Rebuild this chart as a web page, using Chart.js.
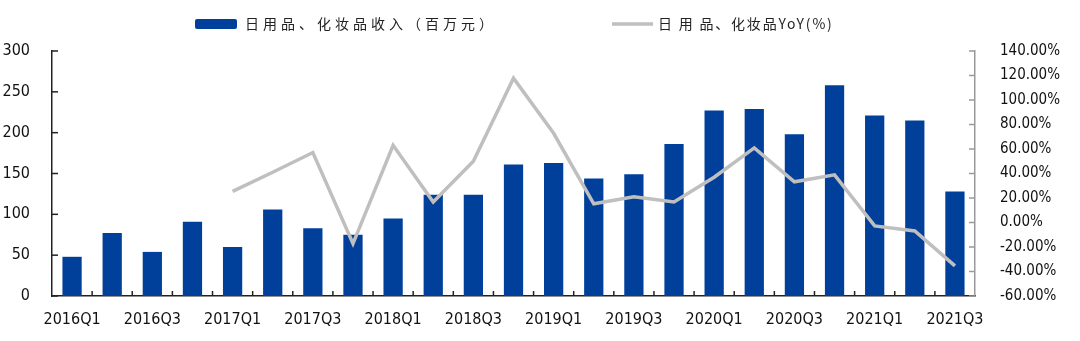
<!DOCTYPE html>
<html lang="zh">
<head>
    <meta charset="UTF-8">
    <title>日用品、化妆品收入</title>
    <script src="https://cdn.jsdelivr.net/npm/chart.js"></script>
    <style>
        body { margin: 0; background: #fff; }
        #wrap { width: 1080px; height: 341px; position: relative; }
    </style>
</head>
<body>
<div id="wrap"><canvas id="chart"></canvas></div>
<script>
    // data
    const quarters = ['2016Q1', '2016Q2', '2016Q3', '2016Q4', '2017Q1', '2017Q2', '2017Q3', '2017Q4',
                      '2018Q1', '2018Q2', '2018Q3', '2018Q4', '2019Q1', '2019Q2', '2019Q3', '2019Q4',
                      '2020Q1', '2020Q2', '2020Q3', '2020Q4', '2021Q1', '2021Q2', '2021Q3'];
    const revenue = [48, 77, 54, 91, 60, 106, 83, 75, 95, 124, 124, 161, 163, 144, 149, 186,
                     227, 229, 198, 258, 221, 215, 128];
    const yoy = [null, null, null, null, 25.4, 41, 57.1, -17.2, 63, 16.7, 50, 117.8, 72.8, 15.3, 21, 16.7,
                 37, 60.9, 33.2, 38.9, -2.8, -6.9, -35.4];
    const revenueLabel = '日用品、化妆品收入（百万元）';
    const yoyLabel = '日 用 品、化妆品YoY(%)';

    const blue = '#00409A';
    const grey = '#BFBFBF';
    const tickFont = { family: '"DejaVu Sans Condensed", "DejaVu Sans", sans-serif', size: 16 };

    // legend + inward tick marks
    const extras = {
        id: 'extras',
        afterDraw(chart) {
            const ctx = chart.ctx;
            const area = chart.chartArea;
            const x = chart.scales.x, y = chart.scales.y, y1 = chart.scales.y1;
            ctx.save();
            ctx.lineWidth = 1.5;
            ctx.strokeStyle = '#222';
            y.ticks.forEach(t => {
                const py = y.getPixelForValue(t.value);
                ctx.beginPath(); ctx.moveTo(area.left, py); ctx.lineTo(area.left + 6, py); ctx.stroke();
            });
            const step = (x.getPixelForValue(1) - x.getPixelForValue(0));
            for (let i = 1; i < quarters.length; i++) {
                const px = x.getPixelForValue(i) - step / 2;
                ctx.beginPath(); ctx.moveTo(px, area.bottom); ctx.lineTo(px, area.bottom - 5); ctx.stroke();
            }
            ctx.strokeStyle = '#999';
            y1.ticks.forEach(t => {
                const py = y1.getPixelForValue(t.value);
                ctx.beginPath(); ctx.moveTo(area.right, py); ctx.lineTo(area.right - 6, py); ctx.stroke();
            });

            // legend
            ctx.font = '14px "Noto Sans CJK SC", sans-serif';
            ctx.textBaseline = 'middle';
            ctx.fillStyle = blue;
            ctx.beginPath();
            ctx.roundRect(195, 19, 42, 10, 2);
            ctx.fill();
            ctx.fillStyle = '#222';
            ctx.letterSpacing = '4px';
            ctx.fillText(revenueLabel, 245, 24);
            ctx.strokeStyle = grey;
            ctx.lineWidth = 3.5;
            ctx.beginPath(); ctx.moveTo(612, 24); ctx.lineTo(653, 24); ctx.stroke();
            ctx.letterSpacing = '1.8px';
            ctx.fillText(yoyLabel, 658, 24);
            ctx.restore();
        }
    };

    new Chart(document.getElementById('chart'), {
        data: {
            labels: quarters,
            datasets: [
                {
                    type: 'line',
                    label: yoyLabel,
                    data: yoy,
                    yAxisID: 'y1',
                    borderColor: grey,
                    borderWidth: 3.5,
                    pointRadius: 0,
                    tension: 0,
                    order: 0
                },
                {
                    type: 'bar',
                    label: revenueLabel,
                    data: revenue,
                    yAxisID: 'y',
                    backgroundColor: blue,
                    categoryPercentage: 1,
                    barPercentage: 0.48,
                    order: 1
                }
            ]
        },
        options: {
            responsive: true,
            maintainAspectRatio: false,
            animation: false,
            layout: { padding: { top: 51, left: 0, right: 0, bottom: 0 } },
            plugins: { legend: { display: false }, tooltip: { enabled: false } },
            scales: {
                x: {
                    offset: true,
                    grid: { display: false },
                    border: { display: true, color: '#222', width: 1.5 },
                    afterFit(s) { s.height = 45; },
                    ticks: {
                        autoSkip: false,
                        maxRotation: 0,
                        padding: 6,
                        color: '#111',
                        font: tickFont,
                        callback: (v, i) => (i % 2 === 0 ? quarters[i] : '')
                    }
                },
                y: {
                    position: 'left',
                    min: 0, max: 300,
                    grid: { display: false },
                    border: { display: true, color: '#222', width: 1.5 },
                    afterFit(s) { s.width = 52; },
                    ticks: { stepSize: 50, padding: 14, color: '#111', font: tickFont }
                },
                y1: {
                    position: 'right',
                    min: -60, max: 140,
                    grid: { display: false },
                    border: { display: true, color: '#999', width: 1.5 },
                    afterFit(s) { s.width = 105; },
                    ticks: {
                        stepSize: 20, padding: 17, color: '#111',
                        font: { family: tickFont.family, size: 15 },
                        callback: v => v.toFixed(2) + '%'
                    }
                }
            }
        },
        plugins: [extras]
    });
</script>
</body>
</html>
